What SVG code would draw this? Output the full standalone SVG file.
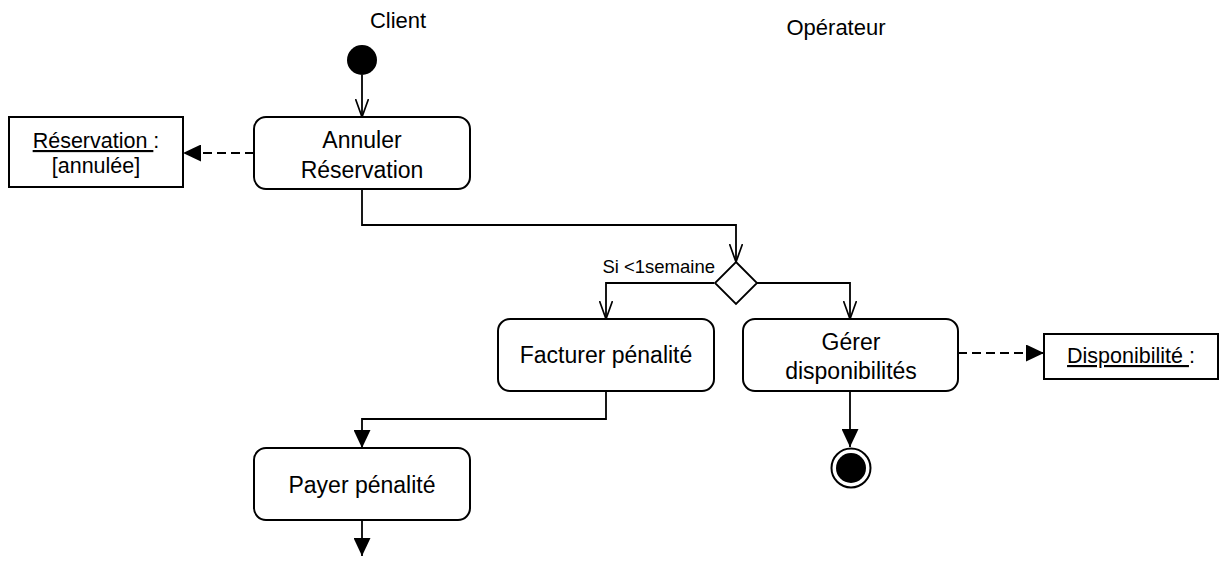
<svg xmlns="http://www.w3.org/2000/svg" width="1219" height="565" viewBox="0 0 1219 565">
<style>
text{font-family:"Liberation Sans",Arial,sans-serif;fill:#000}
.act{fill:#fff;stroke:#000;stroke-width:2}
.obj{fill:#fff;stroke:#000;stroke-width:2}
.lbl{font-size:23px;text-anchor:middle}
.olbl{font-size:21.5px;text-anchor:middle}
.ttl{font-size:22px;text-anchor:middle}
.guard{font-size:18.5px;text-anchor:end}
.c{fill:none;stroke:#000;stroke-width:1.8}
.d{stroke-dasharray:9,5}
</style>
<defs>
<marker id="open" viewBox="0 0 19 14" refX="18" refY="7" markerWidth="19" markerHeight="14" markerUnits="userSpaceOnUse" orient="auto">
<path d="M0,0.5 L18,7 L0,13.5" fill="none" stroke="#000" stroke-width="1.7"/>
</marker>
<marker id="fill" viewBox="0 0 18 17" refX="18" refY="8.5" markerWidth="18" markerHeight="17" markerUnits="userSpaceOnUse" orient="auto">
<path d="M0,0 L18,8.5 L0,17 z" fill="#000"/>
</marker>
</defs>
<rect width="1219" height="565" fill="#fff"/>
<g id="titles">
<text class="ttl" x="398" y="28">Client</text>
<text class="ttl" x="836" y="35">Opérateur</text>
</g>
<g id="connectors">
<path class="c" d="M362,75 L362,117" marker-end="url(#open)"/>
<path class="c d" d="M254,153 L183,153" marker-end="url(#fill)"/>
<path class="c" d="M362,189 L362,225 L736,225 L736,262" marker-end="url(#open)"/>
<path class="c" d="M714,283 L606,283 L606,319" marker-end="url(#open)"/>
<path class="c" d="M757,283 L850,283 L850,319" marker-end="url(#open)"/>
<path class="c d" d="M958,353 L1044,353" marker-end="url(#fill)"/>
<path class="c" d="M850,391 L850,447" marker-end="url(#fill)"/>
<path class="c" d="M606,391 L606,419 L362,419 L362,448" marker-end="url(#fill)"/>
<path class="c" d="M362,520 L362,556" marker-end="url(#fill)"/>
<text class="guard" x="715" y="273">Si &lt;1semaine</text>
</g>
<g id="start"><circle cx="362" cy="60" r="15" fill="#000"/></g>
<g id="annuler">
<rect class="act" x="254" y="117" width="216" height="72" rx="12"/>
<text class="lbl" x="362" y="148">Annuler</text>
<text class="lbl" x="362" y="178">Réservation</text>
</g>
<g id="reservation">
<rect class="obj" x="9" y="117" width="174" height="70"/>
<text class="olbl" x="96" y="148"><tspan text-decoration="underline">Réservation </tspan>:</text>
<text class="olbl" x="96" y="173">[annulée]</text>
</g>
<g id="decision">
<path d="M736,262 L757,283 L736,304 L715,283 z" fill="#fff" stroke="#000" stroke-width="1.8"/>
</g>
<g id="facturer">
<rect class="act" x="498" y="319" width="216" height="72" rx="12"/>
<text class="lbl" x="606" y="363">Facturer pénalité</text>
</g>
<g id="gerer">
<rect class="act" x="743" y="319" width="215" height="72" rx="12"/>
<text class="lbl" x="851" y="350">Gérer</text>
<text class="lbl" x="851" y="379">disponibilités</text>
</g>
<g id="disponibilite">
<rect class="obj" x="1044" y="334" width="174" height="45"/>
<text class="olbl" x="1131" y="363"><tspan text-decoration="underline">Disponibilité </tspan>:</text>
</g>
<g id="payer">
<rect class="act" x="254" y="448" width="216" height="72" rx="12"/>
<text class="lbl" x="362" y="493">Payer pénalité</text>
</g>
<g id="end">
<circle cx="851" cy="468" r="19.5" fill="#fff" stroke="#000" stroke-width="2"/>
<circle cx="851" cy="468" r="15" fill="#000"/>
</g>
</svg>
